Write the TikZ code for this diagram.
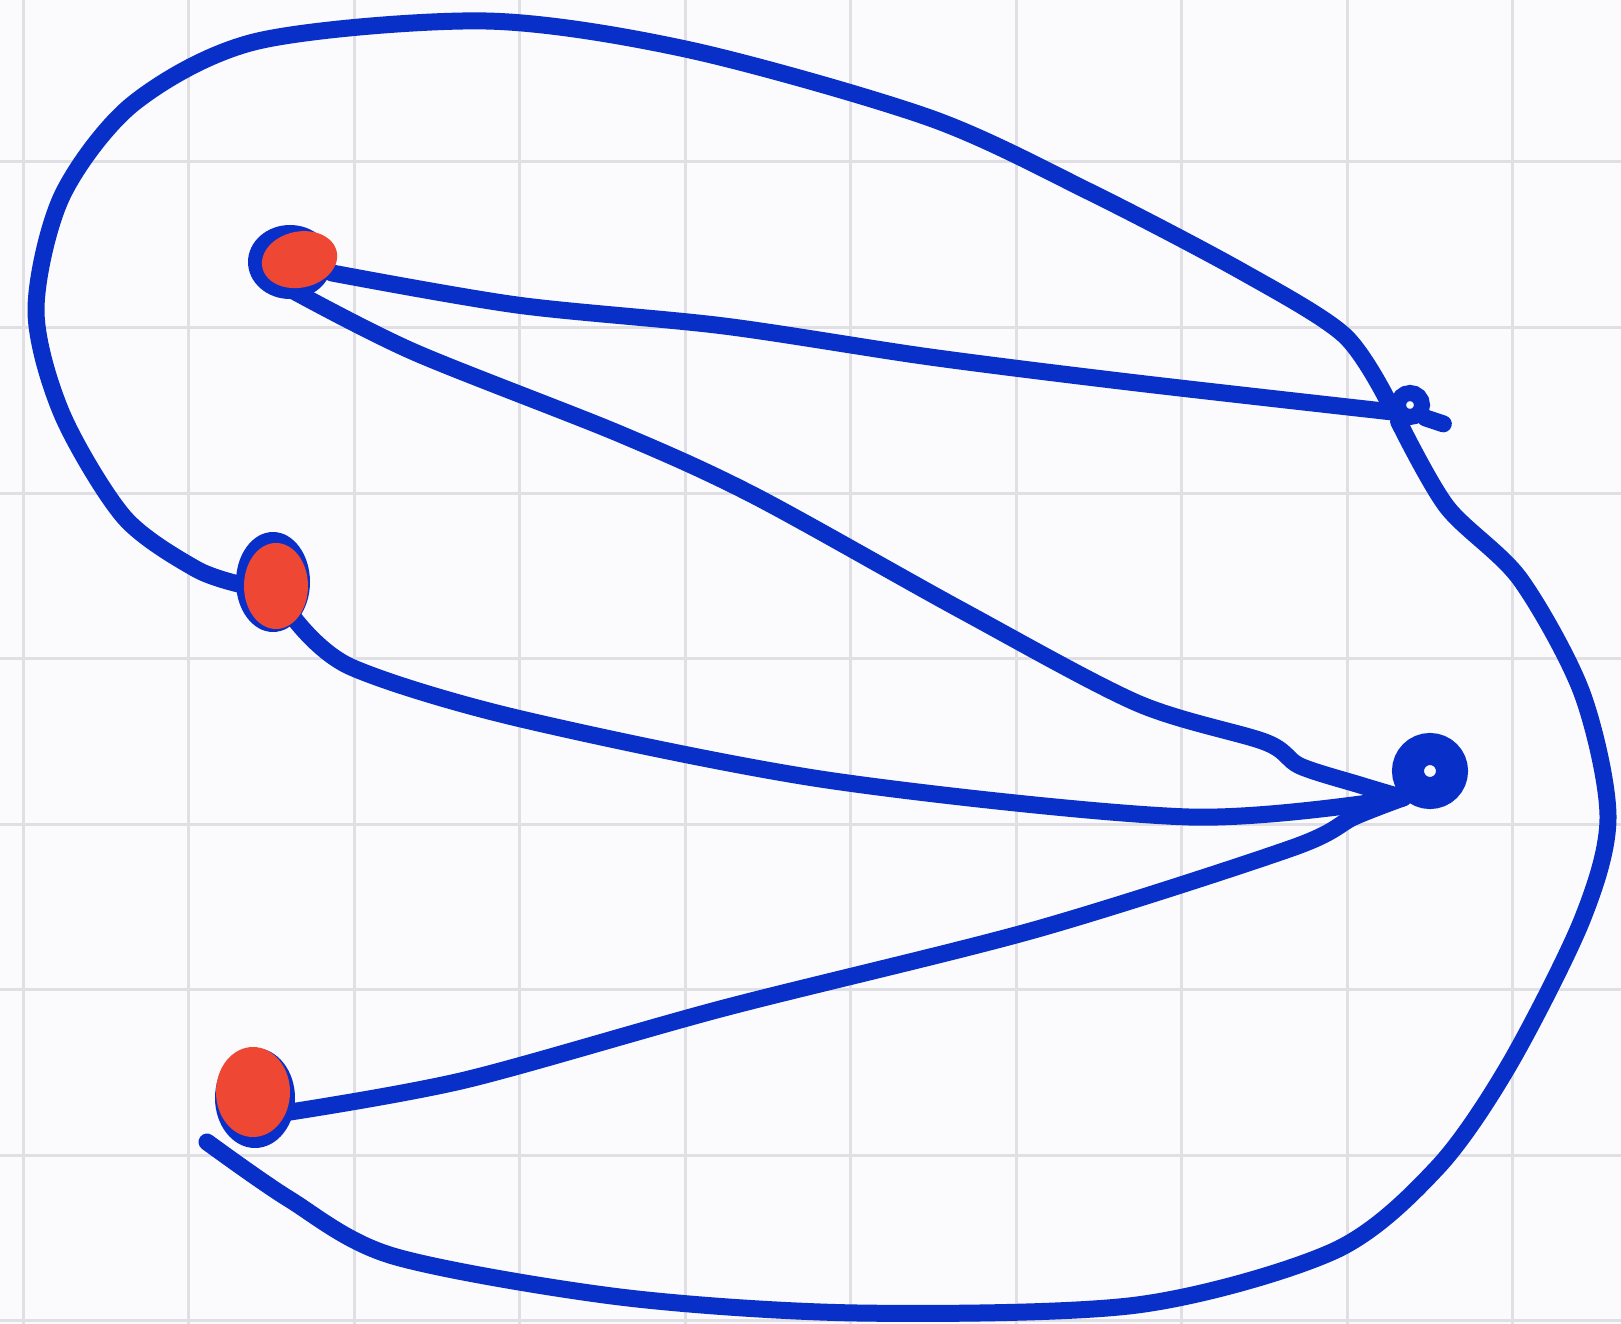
\documentclass[tikz,border=0pt]{standalone}
\usetikzlibrary{shapes.geometric}
\definecolor{pen}{RGB}{8,48,200}
\definecolor{ink}{RGB}{238,72,52}
\definecolor{gridc}{RGB}{224,224,228}
\definecolor{paper}{RGB}{251,250,253}
\tikzset{
  wire/.style={draw=pen,line width=17pt,line cap=round,line join=round},
  rednode/.style={ellipse,fill=ink,inner sep=0pt},
}
\begin{document}
\begin{tikzpicture}[x=1pt,y=-1pt]
\fill[paper] (0,0) rectangle (1621,1324);
\useasboundingbox (0,0) rectangle (1621,1324);
% grid
\foreach \i in {0,...,9} \draw[gridc,line width=3pt] ({23+165.5*\i},0) -- ({23+165.5*\i},1324);
\foreach \j in {0,...,7} \draw[gridc,line width=3pt] (0,{162+165.5*\j}) -- (1621,{162+165.5*\j});
% node positions
\node[rednode,minimum width=77pt,minimum height=57pt,rotate=12] (A) at (298,262) {};
\node[rednode,minimum width=64pt,minimum height=86pt] (B) at (275,585) {};
\node[rednode,minimum width=74pt,minimum height=90pt] (C) at (254,1093) {};
\node[circle,draw=pen,line width=16pt,minimum size=24pt,inner sep=0pt] (D) at (1410,405) {};
\node[circle,draw=pen,line width=32pt,minimum size=44pt,inner sep=0pt] (E) at (1430,771) {};
\coordinate (cend) at (207,1142);
% edges
\draw[wire] plot[smooth] coordinates {(A.-30) (517,305) (724,326) (930,357) (1137,383) (D.200)};
\draw[wire] plot[smooth] coordinates {(A.-110) (414,352) (620,434) (755,496) (961,610) (1137,703) (1265,742) (1300,766) (1360,785) (E.south west)};
\draw[wire] plot[smooth] coordinates {(B.-60) (351,667) (517,718) (827,780) (1189,817) (E.south west)};
\draw[wire] plot[smooth] coordinates {(C.-30) (465,1080) (724,1008) (1034,930) (1292,848) (1354,817) (E.south west)};
\draw[wire] plot[smooth] coordinates {(B.west) (196,569) (124,517) (62,414) (36,310) (62,196) (134,103) (258,41) (486,21) (690,50) (930,118) (1090,192) (1241,271) (1344,335) (D.west)};
\draw[wire] plot[smooth] coordinates {(D.235) (1447,507) (1520,579) (1582,693) (1608,817) (1582,920) (1509,1065) (1437,1168) (1334,1251) (1137,1305) (858,1313) (620,1297) (393,1256) (289,1199) (cend)};
\draw[wire] (D.-40) -- ++(18,6);
% node bodies on top
\fill[pen] (290,262) ellipse [x radius=42, y radius=37];
\fill[pen] (273,582) ellipse [x radius=37, y radius=50];
\fill[pen] (255,1098) ellipse [x radius=40, y radius=50];
\fill[ink,rotate around={12:(298,262)}] (300,260) ellipse [x radius=38, y radius=28];
\fill[ink] (276,586) ellipse [x radius=32, y radius=43];
\fill[ink] (253,1092) ellipse [x radius=37, y radius=45];
\end{tikzpicture}
\end{document}
